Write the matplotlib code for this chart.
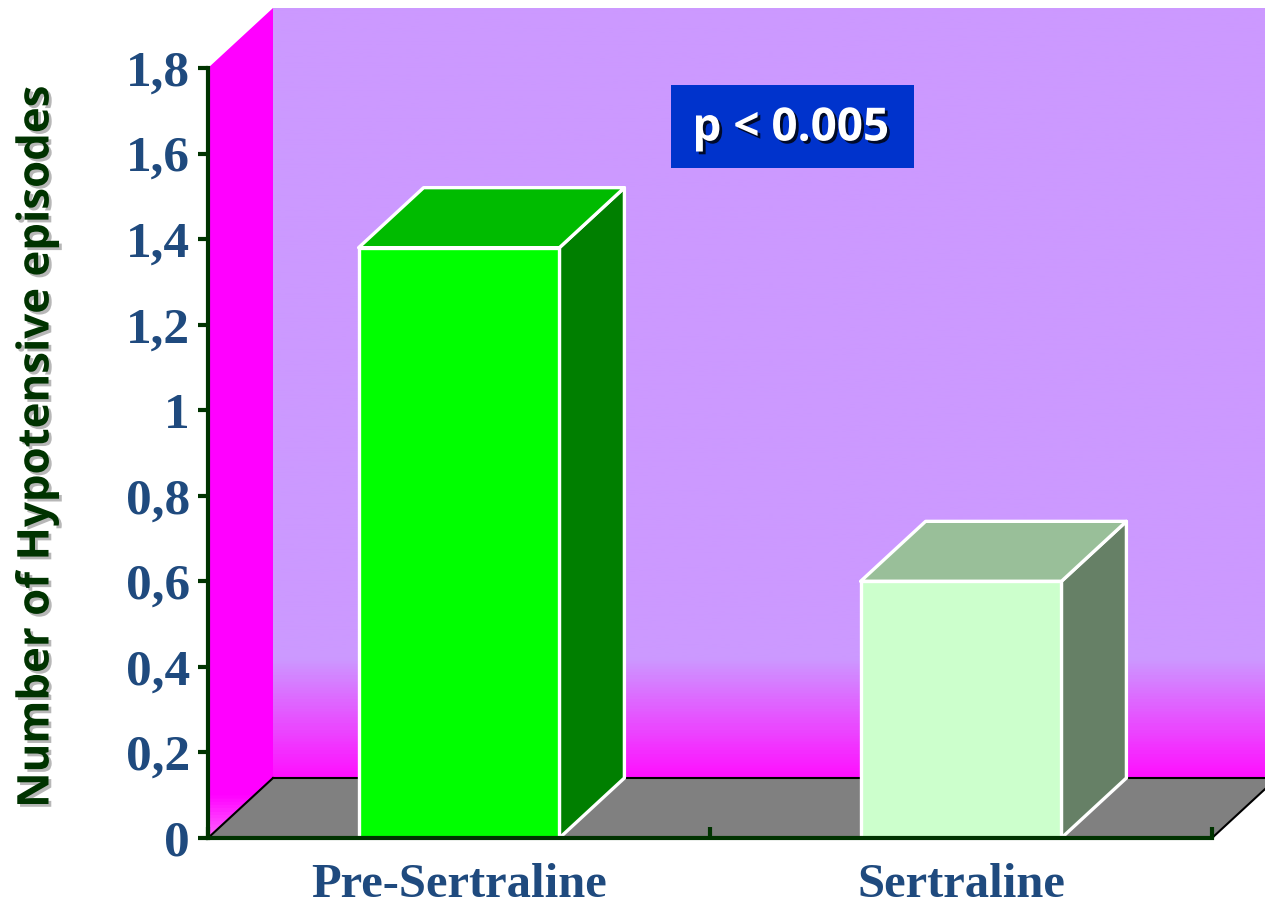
import numpy as np
import matplotlib
matplotlib.use("Agg")
import matplotlib.pyplot as plt
from matplotlib.patches import Polygon, Rectangle
from matplotlib.colors import LinearSegmentedColormap
import matplotlib.patheffects as pe

# Data
categories = ["Pre-Sertraline", "Sertraline"]
values = [1.38, 0.60]
y_ticks = [0, 0.2, 0.4, 0.6, 0.8, 1.0, 1.2, 1.4, 1.6, 1.8]
y_tick_labels = ["0", "0,2", "0,4", "0,6", "0,8", "1", "1,2", "1,4", "1,6", "1,8"]
y_label = "Number of Hypotensive episodes"
p_text = "p < 0.005"

# Styling
front_colors = ["#00FF00", "#CCFFCC"]
top_colors = ["#00BB00", "#99BF99"]
side_colors = ["#007F00", "#668066"]
axis_color = "#003300"
tick_color = "#1F4A7E"
W, H = 1265, 910

fig = plt.figure(figsize=(W / 100, H / 100), dpi=100)
fig.patch.set_facecolor("white")

ax = fig.add_axes([208 / W, 72 / H, 1004 / W, 770 / H])
ax.set_facecolor("none")

YMAX = 1.8
DX = 65 / 502.0          # depth offset in category units
DY = 60 / 427.8          # depth offset in value units
BW = 0.4                 # bar width

# Back wall with gradient towards the floor
wall_cmap = LinearSegmentedColormap.from_list(
    "wall", [(0.0, "#FF10FF"), (0.153, "#CC99FF"), (1.0, "#CC99FF")])
grad = np.linspace(0, 1, 800).reshape(-1, 1)
ax.imshow(grad, cmap=wall_cmap, origin="lower", aspect="auto",
          extent=[DX, 2 + DX + 0.2, DY, YMAX + DY], zorder=0, clip_on=False)

# Left wall
left_cmap = LinearSegmentedColormap.from_list(
    "lw", [(0.0, "#FF60FF"), (0.05, "#FF00FF"), (1.0, "#FF00FF")])
left = Polygon([(0, 0), (DX, DY), (DX, YMAX + DY), (0, YMAX)], closed=True,
               facecolor="none", edgecolor="none", zorder=0.5, clip_on=False)
ax.add_patch(left)
im = ax.imshow(grad, cmap=left_cmap, origin="lower", aspect="auto",
               extent=[0, DX, 0, YMAX + DY], zorder=0.5)
im.set_clip_box(fig.bbox)
im.set_clip_path(left)

# Floor
floor = Polygon([(0, 0), (DX, DY), (2 + DX + 0.2, DY), (2 + DX, DY), (2, 0)],
                closed=True, facecolor="#808080", edgecolor="none", zorder=1, clip_on=False)
ax.add_patch(floor)
ax.plot([DX, 2 + DX + 0.2], [DY, DY], color="black", lw=1.5, zorder=1.1, clip_on=False)
ax.plot([0, DX], [0, DY], color="black", lw=1.5, zorder=1.1, clip_on=False)
ax.plot([2, 2 + DX], [0, DY], color="black", lw=1.5, zorder=1.1, clip_on=False)

# 3D bars
for i, v in enumerate(values):
    c = i + 0.5
    x0, x1 = c - BW / 2, c + BW / 2
    kw = dict(closed=True, edgecolor="white", linewidth=2.4, joinstyle="round",
              clip_on=False, zorder=2)
    ax.add_patch(Polygon([(x1, 0), (x1 + DX, DY), (x1 + DX, v + DY), (x1, v)],
                         facecolor=side_colors[i], **kw))
    ax.add_patch(Polygon([(x0, v), (x0 + DX, v + DY), (x1 + DX, v + DY), (x1, v)],
                         facecolor=top_colors[i], **kw))
    ax.add_patch(Polygon([(x0, 0), (x0, v), (x1, v), (x1, 0)],
                         facecolor=front_colors[i], **kw))

ax.set_xlim(0, 2)
ax.set_ylim(0, YMAX)

# Axes lines
for s in ["top", "right"]:
    ax.spines[s].set_visible(False)
for s in ["left", "bottom"]:
    ax.spines[s].set_color(axis_color)
    ax.spines[s].set_linewidth(3)
    ax.spines[s].set_zorder(3)

ax.set_yticks(y_ticks)
ax.set_yticklabels(y_tick_labels)
ax.tick_params(axis="y", direction="out", length=7, width=3, color=axis_color,
               pad=6, labelsize=37, labelcolor=tick_color)
for t in ax.get_yticklabels():
    t.set_fontfamily("Liberation Serif")
    t.set_fontweight("bold")

ax.set_xticks([0, 1, 2])
ax.set_xticklabels(["", "", ""])
ax.tick_params(axis="x", which="major", direction="in", length=8, width=3, color=axis_color)
ax.set_xticks([0.5, 1.5], minor=True)
ax.set_xticklabels(categories, minor=True)
ax.tick_params(axis="x", which="minor", length=0, pad=18, labelsize=35, labelcolor=tick_color)
for t in ax.get_xticklabels(minor=True):
    t.set_fontfamily("Liberation Serif")
    t.set_fontweight("bold")

# Y axis title with soft shadow
fig.text(37 / W, 1 - 447 / H, y_label, rotation=90, ha="center", va="center",
         fontsize=31.5, fontweight="bold", family="Open Sans", color=axis_color,
         path_effects=[pe.SimplePatchShadow(offset=(2, -2), shadow_rgbFace="#888888", alpha=0.6),
                       pe.Normal()])

# Significance box
fig.patches.append(Rectangle((671 / W, 1 - 168 / H), (914 - 671) / W, (168 - 85) / H,
                             transform=fig.transFigure, facecolor="#0033CC",
                             edgecolor="none", zorder=5))
fig.text(791 / W, 1 - 128 / H, p_text, ha="center", va="center", fontsize=33,
         fontweight="bold", family="Open Sans", color="white", zorder=6,
         path_effects=[pe.SimplePatchShadow(offset=(2, -2), shadow_rgbFace="black", alpha=0.8),
                       pe.Normal()])

fig.savefig("out.png", dpi=100, facecolor="white")
